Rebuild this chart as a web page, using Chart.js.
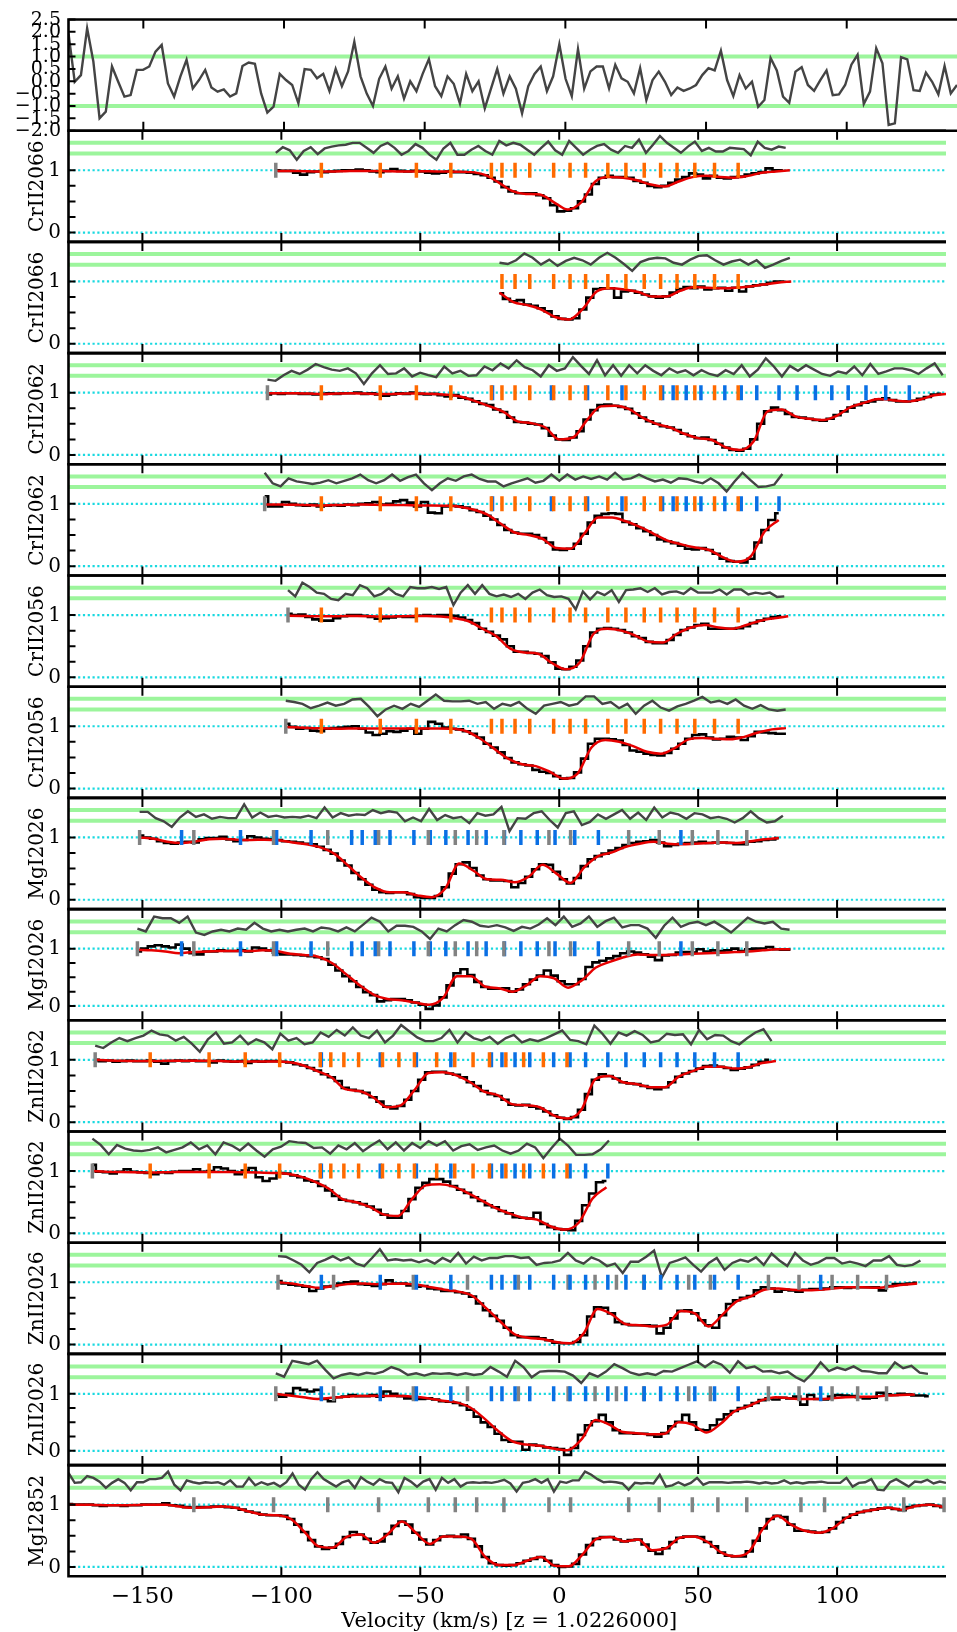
<!DOCTYPE html>
<html>
<head>
<meta charset="utf-8">
<script src="https://cdn.jsdelivr.net/npm/chart.js@4.4.0/dist/chart.umd.min.js"></script>
<style>
  html, body { margin: 0; padding: 0; background: #fff; overflow: hidden; }
  #stack { position: relative; width: 957px; height: 1632px; }
  #stack canvas { position: absolute; left: 0; }
</style>
</head>
<body>
<div id="stack"></div>
<script>
// velocity axis (km/s) shared by every panel
const V_MIN = -176.6, V_MAX = 139.2;
const velocityTicks = [-150, -100, -50, 0, 50, 100];

// fitted component velocities
const crComps = [-85.6, -64.4, -51.4, -39.0, -24.4, -20.6, -15.9, -10.6, -2.0, 3.9, 9.5, 17.5, 24.0, 30.6, 36.5, 42.4, 48.8, 55.9, 64.4];
const znInCr2062 = [-24.0, -2.8, 10.2, 22.6, 37.2, 41.0, 45.7, 51.0, 59.6, 65.5, 71.1, 79.1, 85.6, 92.2, 98.1, 104.0, 110.4, 117.5, 126.0];
const crInZn2062 = [-147.2, -126.0, -113.0, -100.6, -86.0, -82.2, -77.5, -72.2, -63.6, -57.7, -52.1, -44.1, -37.6, -31.0, -25.1, -19.2, -12.8, -5.7, 2.8];
const znExtra2026 = [94.1];
const znInMg2026 = [-135.9, -114.7, -101.7, -89.3, -74.7, -70.9, -66.2, -60.9, -52.3, -46.4, -40.8, -32.8, -26.3, -19.7, -13.8, -7.9, -1.5, 5.6, 14.1, 43.8];
const mgComps = [-131.5, -102.8, -83.3, -65.0, -47.1, -37.4, -29.7, -19.9, -3.7, 4.1, 25.0, 36.0, 47.9, 57.1, 67.5, 87.0, 95.5, 124.0, 138.5];
const mgInZn2026 = [-81.2, -52.5, -33.0, -14.7, 3.2, 12.9, 20.6, 30.4, 46.6, 54.4, 75.3, 86.3, 98.2, 107.4, 117.8];

// normalised residual of the whole fit (sigma)
const topResidual = [1.94,-0.02,0.25,2.14,0.80,-1.50,-1.23,0.60,-0.02,-0.62,-0.56,0.46,0.46,0.60,1.20,1.47,-0.09,-0.62,0.19,0.87,-0.29,0.05,0.46,-0.25,-0.42,-0.33,-0.62,-0.49,0.62,0.76,0.71,-0.49,-1.27,-1.03,0.30,0.05,-0.15,-0.89,0.49,0.46,0.12,
  0.3,-0.4,0.5,-0.2,0.4,1.6,0.2,-0.5,-1.0,0.1,0.6,-0.3,0.2,-0.7,0.0,-0.4,0.3,0.9,-0.2,-0.6,0.2,-0.1,-0.9,0.3,-0.4,0.0,-1.1,-0.3,0.5,-0.5,0.2,-0.3,-1.3,-0.2,0.3,0.6,-0.4,0.2,1.5,0.1,-0.6,1.3,-0.3,0.4,0.6,
  0.60,-0.29,0.67,0.12,-0.02,-0.49,0.53,-0.76,0.05,0.39,-0.02,-0.56,-0.25,-0.39,-0.29,-0.15,0.25,0.53,0.44,1.24,0.05,-0.60,0.25,-0.29,-0.02,-1.03,-0.76,0.94,0.44,-0.62,-0.87,0.39,0.57,-0.15,-0.39,0.05,0.44,-0.56,-0.53,-0.15,0.67,1.07,-0.92,-0.42,1.34,0.73,-1.77,-1.70,0.98,0.89,-0.36,-0.39,0.35,-0.02,-0.53,0.62,-0.49,-0.15];

// CrII2066 (first exposure)
const cr2066aFlux = [1.00,0.99,0.99,0.96,0.93,0.97,0.98,0.97,0.98,0.99,1.00,1.00,1.01,1.00,0.98,0.97,0.99,1.02,0.99,0.98,0.99,0.98,0.96,0.95,0.96,0.98,0.97,0.97,0.96,0.94,0.92,0.88,0.82,0.73,0.66,0.63,0.63,0.63,0.60,0.55,0.44,0.34,0.35,0.39,0.50,0.61,0.78,0.88,0.91,0.89,0.89,0.88,0.83,0.80,0.75,0.73,0.75,0.80,0.85,0.89,0.95,0.93,0.87,0.91,0.88,0.87,0.89,0.90,0.93,0.95,0.97,1.03,1.00,1.00];
const cr2066aModel = [0.99,0.99,0.985,0.98,0.98,0.985,0.99,0.99,0.985,0.98,0.98,0.985,0.98,0.975,0.97,0.93,0.81,0.67,0.62,0.61,0.49,0.37,0.49,0.82,0.89,0.88,0.84,0.77,0.74,0.82,0.89,0.91,0.89,0.88,0.91,0.96,0.98,1.0];
const cr2066aResid = [1.28,1.37,1.32,1.17,1.31,1.37,1.26,1.35,1.38,1.40,1.41,1.44,1.44,1.36,1.28,1.39,1.44,1.36,1.25,1.31,1.42,1.36,1.25,1.17,1.35,1.44,1.25,1.25,1.33,1.39,1.31,1.25,1.47,1.40,1.44,1.41,1.33,1.25,1.36,1.46,1.32,1.25,1.47,1.36,1.25,1.33,1.39,1.42,1.33,1.28,1.39,1.36,1.49,1.28,1.41,1.55,1.44,1.36,1.28,1.38,1.46,1.31,1.36,1.30,1.30,1.36,1.35,1.34,1.24,1.46,1.36,1.33,1.38,1.36];

// CrII2066 (second exposure)
const cr2066bFlux = [0.81,0.72,0.68,0.70,0.63,0.61,0.57,0.52,0.44,0.40,0.39,0.41,0.55,0.74,0.88,0.89,0.89,0.74,0.84,0.85,0.82,0.79,0.76,0.74,0.76,0.82,0.88,0.91,0.89,0.92,0.87,0.89,0.90,0.85,0.90,0.84,0.92,0.94,0.95,0.98,1.00,1.00];
const cr2066bModel = [0.82,0.67,0.62,0.55,0.43,0.39,0.56,0.84,0.89,0.87,0.83,0.76,0.76,0.85,0.91,0.90,0.89,0.90,0.92,0.95,0.98,1.0];
const cr2066bResid = [1.30,1.28,1.34,1.45,1.38,1.27,1.35,1.25,1.33,1.38,1.34,1.27,1.38,1.46,1.38,1.28,1.17,1.31,1.36,1.38,1.37,1.30,1.27,1.35,1.41,1.42,1.34,1.27,1.32,1.35,1.27,1.34,1.22,1.27,1.33,1.38];

// CrII2062 (first exposure)
const cr2062aFlux = [0.97,0.99,0.98,0.99,0.99,0.98,0.98,0.97,0.98,0.99,0.98,0.99,0.99,1.00,0.98,0.99,0.97,0.95,0.97,0.99,0.98,1.00,0.98,0.97,0.98,0.96,0.94,0.96,0.92,0.90,0.86,0.82,0.80,0.73,0.69,0.60,0.53,0.52,0.50,0.49,0.43,0.31,0.25,0.24,0.28,0.38,0.57,0.72,0.80,0.81,0.79,0.77,0.74,0.67,0.60,0.54,0.50,0.46,0.44,0.40,0.34,0.30,0.27,0.28,0.24,0.18,0.12,0.08,0.07,0.10,0.25,0.50,0.70,0.76,0.72,0.66,0.61,0.60,0.58,0.56,0.55,0.58,0.64,0.70,0.76,0.80,0.84,0.86,0.89,0.91,0.88,0.86,0.86,0.87,0.90,0.93,0.97,0.98];
const cr2062aModel = [0.99,0.99,0.99,0.985,0.98,0.985,0.99,0.985,0.98,0.98,0.985,0.985,0.98,0.965,0.93,0.86,0.78,0.69,0.54,0.51,0.44,0.25,0.28,0.56,0.78,0.79,0.74,0.60,0.50,0.44,0.34,0.27,0.24,0.12,0.08,0.22,0.70,0.73,0.62,0.58,0.56,0.63,0.77,0.84,0.90,0.88,0.86,0.89,0.96,0.98];
const cr2062aResid = [1.21,1.19,1.28,1.35,1.30,1.37,1.46,1.41,1.37,1.35,1.39,1.31,1.14,1.31,1.44,1.30,1.31,1.39,1.26,1.32,1.28,1.25,1.42,1.31,1.35,1.27,1.28,1.42,1.36,1.47,1.39,1.52,1.41,1.36,1.26,1.44,1.35,1.39,1.57,1.43,1.30,1.52,1.28,1.44,1.27,1.44,1.31,1.44,1.35,1.28,1.39,1.32,1.36,1.28,1.36,1.30,1.27,1.36,1.30,1.44,1.26,1.37,1.55,1.42,1.26,1.43,1.35,1.44,1.37,1.30,1.27,1.34,1.31,1.42,1.28,1.46,1.30,1.34,1.39,1.39,1.36,1.30,1.39,1.47,1.28];

// CrII2062 (second exposure)
const cr2062bFlux = [1.12,0.96,0.96,1.03,1.00,0.98,0.97,0.99,0.96,0.97,0.98,0.97,0.99,0.98,1.00,1.01,1.03,0.99,1.00,1.04,1.06,1.02,0.96,1.03,0.86,0.85,0.96,0.97,0.96,0.94,0.90,0.87,0.81,0.75,0.66,0.58,0.54,0.52,0.52,0.50,0.45,0.38,0.27,0.26,0.28,0.36,0.52,0.70,0.81,0.84,0.85,0.84,0.71,0.67,0.61,0.56,0.50,0.43,0.40,0.37,0.33,0.28,0.27,0.29,0.26,0.20,0.12,0.08,0.07,0.06,0.12,0.38,0.58,0.74,0.85];
const cr2062bModel = [0.99,0.99,0.985,0.98,0.975,0.98,0.985,0.99,0.985,0.98,0.98,0.975,0.975,0.97,0.955,0.91,0.83,0.68,0.54,0.50,0.44,0.29,0.28,0.52,0.78,0.78,0.72,0.63,0.52,0.41,0.35,0.30,0.26,0.14,0.07,0.16,0.56,0.74];
const cr2062bResid = [1.50,1.33,1.28,1.41,1.36,1.34,1.32,1.34,1.38,1.33,1.37,1.41,1.47,1.38,1.33,1.38,1.47,1.37,1.43,1.47,1.33,1.22,1.33,1.41,1.37,1.44,1.47,1.40,1.36,1.36,1.28,1.33,1.37,1.41,1.34,1.37,1.47,1.37,1.47,1.39,1.44,1.40,1.44,1.39,1.50,1.39,1.41,1.47,1.41,1.36,1.39,1.34,1.41,1.40,1.36,1.33,1.41,1.33,1.20,1.36,1.50,1.38,1.27,1.28,1.31,1.48];

// CrII2056 (first exposure)
const cr2056aFlux = [1.02,1.00,1.01,0.97,0.93,0.91,0.91,0.95,0.98,1.00,1.00,0.99,0.97,0.94,0.95,0.96,0.98,0.97,0.97,0.99,1.00,0.99,1.00,1.00,0.99,0.96,0.92,0.87,0.78,0.73,0.67,0.61,0.50,0.41,0.41,0.39,0.38,0.34,0.24,0.14,0.13,0.17,0.27,0.50,0.72,0.78,0.79,0.78,0.76,0.72,0.66,0.63,0.57,0.55,0.55,0.60,0.68,0.76,0.80,0.84,0.86,0.78,0.78,0.78,0.78,0.79,0.82,0.87,0.91,0.94,0.97,0.98];
const cr2056aModel = [0.99,0.985,0.98,0.98,0.985,0.985,0.98,0.975,0.98,0.985,0.985,0.975,0.95,0.90,0.78,0.66,0.46,0.40,0.38,0.23,0.13,0.24,0.70,0.78,0.75,0.67,0.57,0.56,0.70,0.80,0.84,0.80,0.78,0.84,0.91,0.95,0.98];
const cr2056aResid = [1.40,1.30,1.52,1.45,1.36,1.34,1.26,1.24,1.34,1.32,1.48,1.43,1.30,1.34,1.43,1.34,1.30,1.45,1.43,1.43,1.45,1.42,1.45,1.16,1.36,1.48,1.34,1.48,1.34,1.30,1.33,1.29,1.34,1.26,1.36,1.41,1.32,1.29,1.30,1.26,1.09,1.38,1.25,1.37,1.32,1.40,1.21,1.40,1.41,1.43,1.37,1.43,1.33,1.37,1.38,1.34,1.43,1.36,1.36,1.36,1.41,1.33,1.41,1.41,1.33,1.36,1.34,1.36,1.29,1.30];

// CrII2056 (second exposure)
const cr2056bFlux = [1.04,0.99,0.96,0.97,0.93,0.92,0.96,0.97,0.98,0.99,1.00,0.96,0.90,0.86,0.88,0.92,0.91,0.93,0.96,0.88,0.96,1.07,1.04,0.98,0.96,0.95,0.92,0.88,0.82,0.72,0.66,0.58,0.49,0.42,0.39,0.37,0.30,0.27,0.25,0.20,0.16,0.17,0.26,0.48,0.72,0.80,0.80,0.79,0.77,0.70,0.61,0.59,0.56,0.54,0.53,0.57,0.64,0.72,0.80,0.86,0.87,0.82,0.79,0.80,0.83,0.82,0.78,0.84,0.91,0.90,0.89,0.88,0.88];
const cr2056bModel = [0.99,0.98,0.97,0.965,0.96,0.965,0.965,0.965,0.965,0.965,0.965,0.965,0.96,0.92,0.80,0.64,0.48,0.39,0.36,0.27,0.16,0.24,0.66,0.78,0.75,0.68,0.59,0.56,0.65,0.79,0.81,0.80,0.79,0.83,0.90,0.95,0.97];
const cr2056bResid = [1.41,1.39,1.36,1.29,1.33,1.38,1.33,1.36,1.43,1.44,1.31,1.16,1.27,1.33,1.28,1.36,1.31,1.41,1.51,1.41,1.40,1.40,1.41,1.36,1.39,1.28,1.36,1.33,1.39,1.28,1.20,1.33,1.36,1.39,1.33,1.36,1.48,1.48,1.36,1.39,1.29,1.36,1.20,1.33,1.41,1.30,1.25,1.32,1.36,1.41,1.47,1.38,1.41,1.36,1.43,1.33,1.28,1.34,1.27,1.25,1.27];

// MgI2026 (first exposure)
const mg2026aFlux = [1.03,1.00,0.98,0.94,0.91,0.90,0.92,0.93,0.92,0.97,0.99,0.99,1.01,0.97,0.94,0.96,1.02,1.00,0.98,0.97,0.96,0.94,0.93,0.92,0.90,0.89,0.85,0.80,0.74,0.63,0.55,0.43,0.33,0.24,0.16,0.12,0.11,0.12,0.12,0.09,0.04,0.03,0.03,0.06,0.20,0.42,0.57,0.60,0.51,0.39,0.33,0.31,0.31,0.30,0.20,0.27,0.37,0.49,0.57,0.56,0.45,0.33,0.26,0.35,0.54,0.65,0.70,0.74,0.79,0.83,0.88,0.91,0.93,0.94,0.96,0.92,0.86,0.88,0.90,0.91,0.92,0.93,0.91,0.92,0.92,0.91,0.89,0.89,0.93,0.94,0.96,0.97,0.99];
const mg2026aModel = [1.0,0.98,0.93,0.91,0.935,0.97,0.98,0.965,0.96,0.965,0.955,0.92,0.89,0.84,0.74,0.55,0.35,0.19,0.12,0.12,0.07,0.04,0.18,0.58,0.47,0.33,0.32,0.28,0.37,0.56,0.42,0.27,0.52,0.70,0.76,0.85,0.90,0.93,0.90,0.89,0.90,0.91,0.92,0.91,0.94,0.97,0.99];
const mg2026aResid = [1.41,1.41,1.31,1.26,1.17,1.32,1.42,1.33,1.37,1.30,1.33,1.31,1.31,1.53,1.32,1.40,1.33,1.35,1.32,1.33,1.32,1.35,1.31,1.48,1.32,1.39,1.35,1.37,1.36,1.44,1.39,1.42,1.40,1.26,1.32,1.26,1.46,1.28,1.36,1.31,1.33,1.23,1.39,1.35,1.37,1.49,1.10,1.31,1.30,1.39,1.42,1.28,1.16,1.39,1.42,1.20,1.25,1.37,1.30,1.37,1.44,1.30,1.40,1.28,1.48,1.32,1.40,1.37,1.30,1.39,1.37,1.31,1.33,1.30,1.24,1.31,1.42,1.31,1.24,1.26,1.35];

// MgI2026 (second exposure)
const mg2026bFlux = [0.95,1.00,1.04,1.06,1.04,1.02,1.07,1.00,0.92,0.90,0.95,0.95,0.97,0.96,0.96,0.97,0.95,1.02,1.00,0.97,0.93,0.90,0.90,0.89,0.88,0.87,0.85,0.82,0.72,0.62,0.52,0.43,0.33,0.24,0.19,0.08,0.10,0.12,0.12,0.10,0.06,0.02,-0.05,0.01,0.15,0.36,0.57,0.64,0.54,0.42,0.33,0.30,0.30,0.31,0.25,0.29,0.38,0.46,0.53,0.62,0.53,0.43,0.38,0.38,0.47,0.68,0.76,0.79,0.83,0.87,0.92,0.95,0.93,0.90,0.86,0.80,0.88,0.89,0.93,0.94,0.93,0.99,0.95,0.97,0.96,0.97,1.00,0.96,0.99,1.00,1.00,1.03,0.99,0.98,0.98];
const mg2026bModel = [0.98,0.97,0.95,0.92,0.94,0.95,0.96,0.96,0.96,0.97,0.96,0.91,0.89,0.86,0.75,0.56,0.36,0.20,0.12,0.10,0.06,0.02,0.14,0.52,0.52,0.34,0.31,0.25,0.36,0.52,0.48,0.32,0.45,0.67,0.77,0.85,0.90,0.89,0.89,0.90,0.91,0.92,0.93,0.94,0.95,0.97,0.99,0.99];
const mg2026bResid = [1.35,1.30,1.56,1.53,1.53,1.45,1.56,1.28,1.24,1.30,1.33,1.30,1.35,1.33,1.45,1.35,1.30,1.33,1.30,1.33,1.35,1.30,1.37,1.35,1.30,1.37,1.30,1.42,1.54,1.47,1.30,1.40,1.40,1.38,1.30,1.17,1.35,1.30,1.41,1.50,1.47,1.40,1.38,1.41,1.37,1.31,1.38,1.35,1.42,1.53,1.41,1.56,1.38,1.44,1.56,1.38,1.48,1.54,1.37,1.41,1.41,1.35,1.19,1.40,1.54,1.38,1.44,1.47,1.41,1.47,1.38,1.28,1.41,1.54,1.47,1.44,1.47,1.35,1.33];

// ZnII2062 (first exposure)
const zn2062aFlux = [1.00,0.98,0.99,0.97,0.98,0.99,0.98,0.98,0.99,0.97,0.94,0.98,0.99,0.98,0.99,0.98,0.98,0.96,0.99,0.98,0.97,0.98,0.95,0.98,0.97,0.98,0.98,0.97,0.96,0.93,0.91,0.87,0.83,0.77,0.72,0.66,0.55,0.52,0.50,0.47,0.40,0.33,0.25,0.22,0.26,0.36,0.50,0.68,0.80,0.81,0.81,0.78,0.76,0.72,0.64,0.58,0.50,0.45,0.42,0.36,0.28,0.27,0.28,0.25,0.22,0.17,0.11,0.07,0.05,0.08,0.20,0.45,0.68,0.77,0.74,0.70,0.64,0.62,0.61,0.58,0.55,0.53,0.56,0.64,0.73,0.78,0.82,0.86,0.90,0.91,0.89,0.87,0.84,0.86,0.88,0.92,0.97,1.00];
const zn2062aModel = [1.0,0.99,0.985,0.98,0.98,0.985,0.985,0.985,0.985,0.98,0.975,0.975,0.975,0.975,0.96,0.91,0.82,0.72,0.53,0.50,0.40,0.24,0.27,0.52,0.79,0.80,0.75,0.64,0.49,0.43,0.29,0.27,0.24,0.11,0.06,0.20,0.69,0.74,0.64,0.61,0.56,0.56,0.73,0.82,0.89,0.89,0.86,0.88,0.95,0.98];
const zn2062aResid = [1.23,1.19,1.28,1.35,1.30,1.35,1.39,1.47,1.41,1.39,1.31,1.37,1.26,1.13,1.33,1.44,1.26,1.28,1.39,1.25,1.33,1.28,1.17,1.42,1.31,1.35,1.25,1.28,1.44,1.37,1.48,1.39,1.52,1.39,1.35,1.47,1.28,1.39,1.56,1.46,1.36,1.30,1.30,1.35,1.48,1.28,1.44,1.35,1.31,1.37,1.26,1.35,1.40,1.28,1.33,1.30,1.35,1.41,1.47,1.32,1.30,1.25,1.55,1.42,1.26,1.44,1.39,1.46,1.40,1.28,1.31,1.42,1.40,1.41,1.25,1.48,1.33,1.40,1.39,1.30,1.25,1.35,1.44,1.49,1.30];

// ZnII2062 (second exposure)
const zn2062bFlux = [1.10,0.99,0.98,0.96,0.99,1.03,0.99,0.98,0.97,0.95,0.98,0.97,0.99,1.00,1.00,1.03,0.99,1.00,1.06,1.04,1.00,0.95,1.01,1.05,0.90,0.84,0.88,0.97,0.96,0.93,0.90,0.85,0.83,0.76,0.69,0.60,0.54,0.52,0.50,0.47,0.43,0.38,0.30,0.25,0.25,0.36,0.55,0.73,0.81,0.87,0.87,0.83,0.76,0.70,0.65,0.58,0.52,0.45,0.42,0.36,0.32,0.26,0.25,0.24,0.33,0.15,0.10,0.07,0.06,0.05,0.20,0.45,0.64,0.82,0.84];
const zn2062bModel = [1.0,0.99,0.985,0.98,0.975,0.98,0.985,0.985,0.985,0.985,0.985,0.98,0.975,0.97,0.955,0.91,0.83,0.72,0.55,0.50,0.42,0.30,0.28,0.55,0.77,0.79,0.75,0.65,0.53,0.41,0.32,0.25,0.22,0.11,0.06,0.17,0.56,0.74];
const zn2062bResid = [1.52,1.42,1.27,1.42,1.36,1.33,1.32,1.34,1.38,1.30,1.34,1.38,1.46,1.35,1.41,1.27,1.46,1.41,1.33,1.44,1.33,1.23,1.35,1.39,1.48,1.46,1.45,1.37,1.38,1.28,1.41,1.35,1.45,1.32,1.41,1.49,1.35,1.46,1.33,1.45,1.37,1.48,1.41,1.48,1.33,1.40,1.43,1.34,1.38,1.41,1.33,1.28,1.33,1.44,1.38,1.21,1.37,1.52,1.41,1.26,1.26,1.27,1.35,1.49];

// ZnII2026 (first exposure)
const zn2026aFlux = [1.02,0.98,0.96,0.95,0.93,0.86,0.90,0.93,0.94,0.98,1.00,1.01,0.97,0.96,0.94,0.97,1.03,0.98,0.98,0.95,0.93,0.94,0.90,0.89,0.86,0.86,0.84,0.82,0.77,0.66,0.55,0.46,0.38,0.27,0.15,0.12,0.12,0.12,0.10,0.07,0.03,0.02,0.02,0.04,0.15,0.45,0.60,0.59,0.50,0.36,0.33,0.31,0.31,0.31,0.30,0.18,0.27,0.42,0.54,0.55,0.50,0.39,0.31,0.27,0.47,0.65,0.71,0.75,0.78,0.87,0.92,0.90,0.85,0.88,0.87,0.85,0.88,0.89,0.89,0.90,0.92,0.92,0.91,0.92,0.92,0.92,0.92,0.87,0.94,0.97,0.97,0.98,0.99];
const zn2026aModel = [1.00,0.98,0.94,0.91,0.94,0.97,0.98,0.97,0.975,0.975,0.96,0.92,0.88,0.85,0.78,0.58,0.37,0.17,0.11,0.09,0.04,0.02,0.18,0.57,0.49,0.33,0.31,0.29,0.32,0.54,0.50,0.29,0.48,0.69,0.77,0.88,0.90,0.88,0.87,0.88,0.90,0.92,0.92,0.91,0.93,0.96,0.98];
const zn2026aResid = [1.42,1.41,1.35,1.28,1.16,1.31,1.36,1.42,1.35,1.40,1.30,1.26,1.39,1.53,1.35,1.37,1.35,1.36,1.32,1.36,1.30,1.39,1.33,1.47,1.30,1.41,1.35,1.39,1.39,1.42,1.42,1.39,1.40,1.28,1.31,1.32,1.35,1.47,1.35,1.30,1.40,1.35,1.26,1.30,1.15,1.33,1.33,1.41,1.51,1.08,1.31,1.35,1.40,1.28,1.17,1.31,1.39,1.20,1.31,1.36,1.33,1.40,1.28,1.46,1.35,1.26,1.47,1.35,1.28,1.32,1.39,1.39,1.30,1.33,1.30,1.26,1.35,1.35,1.42,1.28,1.26,1.28,1.35];

// ZnII2026 (second exposure)
const zn2026bFlux = [0.98,0.95,1.00,1.10,1.07,1.04,1.07,0.91,0.87,0.94,0.95,0.98,0.96,0.96,0.98,0.95,1.04,1.00,0.96,0.92,0.92,0.91,0.92,0.90,0.87,0.86,
  0.84,0.80,0.72,0.60,0.50,0.42,0.30,0.19,0.16,0.16,0.02,0.11,0.09,0.06,0.05,0.03,-0.07,0.05,0.28,0.45,0.52,0.63,0.50,0.36,0.31,0.31,0.30,0.30,0.28,0.25,0.31,0.43,0.51,0.63,0.50,0.37,0.36,0.45,0.55,0.64,0.70,0.75,0.79,0.84,0.89,0.92,0.90,0.93,0.92,0.95,0.81,0.98,0.91,0.90,0.95,0.98,0.97,0.96,0.94,0.92,0.93,1.02,0.99,0.98,1.00,0.99,0.97,0.97,0.96];
const zn2026bModel = [1.00,0.97,0.94,0.91,0.93,0.95,0.96,0.96,0.96,0.96,0.95,0.92,0.88,0.85,0.76,0.57,0.35,0.17,0.11,0.09,0.04,0.01,0.20,0.54,0.46,0.33,0.31,0.29,0.30,0.50,0.46,0.32,0.47,0.69,0.78,0.89,0.94,0.92,0.91,0.91,0.92,0.94,0.95,0.95,0.97,0.98,0.99];
const zn2026bResid = [1.36,1.30,1.58,1.55,1.52,1.58,1.42,1.27,1.33,1.36,1.33,1.37,1.35,1.39,1.47,1.42,1.33,1.36,1.32,1.36,1.35,1.36,1.33,1.36,1.33,1.35,1.47,1.39,1.30,1.58,1.47,1.29,1.39,1.40,1.40,1.39,1.32,1.19,1.36,1.30,1.39,1.52,1.45,1.37,1.33,1.36,1.33,1.40,1.39,1.45,1.51,1.57,1.47,1.57,1.51,1.37,1.57,1.45,1.48,1.39,1.40,1.36,1.39,1.29,1.22,1.36,1.55,1.40,1.46,1.42,1.48,1.40,1.39,1.36,1.36,1.55,1.45,1.49,1.37,1.35];

// MgI2852
const mg2852Flux = [1.01,1.00,1.00,1.00,0.99,0.98,0.99,0.99,0.98,0.99,0.99,1.00,1.00,1.00,1.02,0.99,0.98,0.96,0.95,0.96,0.96,0.97,0.97,0.96,0.95,0.92,0.89,0.87,0.84,0.83,0.83,0.82,0.77,0.68,0.56,0.43,0.33,0.29,0.31,0.37,0.48,0.56,0.52,0.45,0.39,0.41,0.53,0.66,0.73,0.68,0.55,0.44,0.36,0.43,0.49,0.50,0.48,0.52,0.45,0.33,0.16,0.06,0.03,0.02,0.03,0.06,0.10,0.13,0.16,0.10,0.03,0.00,0.01,0.05,0.20,0.35,0.45,0.48,0.48,0.44,0.41,0.43,0.44,0.36,0.26,0.21,0.30,0.40,0.47,0.49,0.49,0.48,0.40,0.33,0.23,0.18,0.17,0.17,0.25,0.42,0.62,0.77,0.82,0.80,0.68,0.58,0.58,0.57,0.55,0.56,0.62,0.72,0.79,0.84,0.88,0.90,0.92,0.94,0.95,0.93,0.91,0.96,0.98,0.99,1.00,0.98,0.96];
const mg2852Model = [1.00,1.00,0.995,0.99,0.99,0.995,1.00,1.00,0.97,0.95,0.96,0.97,0.95,0.89,0.84,0.83,0.77,0.56,0.33,0.31,0.48,0.52,0.39,0.53,0.73,0.55,0.37,0.49,0.49,0.45,0.16,0.03,0.03,0.10,0.16,0.02,0.01,0.20,0.45,0.48,0.41,0.44,0.27,0.30,0.47,0.49,0.40,0.23,0.17,0.25,0.62,0.82,0.68,0.58,0.55,0.62,0.79,0.88,0.92,0.95,0.92,0.98,1.00,0.96];
const mg2852Resid = [1.51,1.35,1.36,1.46,1.43,1.37,1.27,1.35,1.41,1.35,1.23,1.36,1.36,1.41,1.41,1.43,1.53,1.32,1.23,1.39,1.36,1.34,1.36,1.35,1.36,1.32,1.39,1.29,1.29,1.43,1.31,1.36,1.32,1.35,1.29,1.36,1.50,1.32,1.24,1.41,1.52,1.41,1.35,1.29,1.36,1.39,1.27,1.44,1.37,1.32,1.41,1.36,1.35,1.20,1.43,1.37,1.29,1.37,1.41,1.24,1.43,1.35,1.41,1.29,1.35,1.36,1.35,1.36,
  1.35,1.37,1.40,1.34,1.21,1.35,1.37,1.41,1.35,1.41,1.21,1.37,1.35,1.39,1.39,1.53,1.48,1.41,1.36,1.37,1.36,1.34,1.24,1.35,1.34,1.35,1.34,1.48,1.29,1.31,1.36,1.31,1.35,1.43,1.32,1.36,1.36,1.36,1.35,1.36,1.36,1.37,1.36,1.34,1.36,1.34,1.35,1.39,1.34,1.36,1.34,1.36,1.36,1.37,1.35,1.35,1.35,1.43,1.29,1.35,1.36,1.41,1.24,1.23,1.36,1.41,1.35,1.29,1.37,1.36,1.40,1.34,1.37,1.35];

const ORANGE = '#ff6a00', BLUE = '#0a6fe4', GREY = '#828282';

// one entry per spectral panel, top to bottom
const panels = [
  { label: 'CrII2066', range: [-102, 81.5], flux: cr2066aFlux, model: cr2066aModel, resid: cr2066aResid,
    ticks: [[crComps, ORANGE], [[-102], GREY]] },
  { label: 'CrII2066', range: [-21.5, 83], flux: cr2066bFlux, model: cr2066bModel, resid: cr2066bResid,
    ticks: [[crComps, ORANGE]] },
  { label: 'CrII2062', range: [-105, 138], flux: cr2062aFlux, model: cr2062aModel, resid: cr2062aResid,
    ticks: [[crComps, ORANGE], [znInCr2062, BLUE], [[-105], GREY]] },
  { label: 'CrII2062', range: [-106, 80.3], flux: cr2062bFlux, model: cr2062bModel, resid: cr2062bResid,
    ticks: [[crComps, ORANGE], [znInCr2062, BLUE], [[-106], GREY]] },
  { label: 'CrII2056', range: [-97.6, 81], flux: cr2056aFlux, model: cr2056aModel, resid: cr2056aResid,
    ticks: [[crComps, ORANGE], [[-97.6], GREY]] },
  { label: 'CrII2056', range: [-98.4, 81.5], flux: cr2056bFlux, model: cr2056bModel, resid: cr2056bResid,
    ticks: [[crComps, ORANGE], [[-98.4], GREY]] },
  { label: 'MgI2026', range: [-151, 80.5], flux: mg2026aFlux, model: mg2026aModel, resid: mg2026aResid,
    ticks: [[mgComps, GREY], [znInMg2026, BLUE], [[-151], GREY]] },
  { label: 'MgI2026', range: [-151.8, 82.9], flux: mg2026bFlux, model: mg2026bModel, resid: mg2026bResid,
    ticks: [[mgComps, GREY], [znInMg2026, BLUE], [[-151.8], GREY]], yRange: [-0.25, 1.69], green: [1.285, 1.475] },
  { label: 'ZnII2062', range: [-167, 76.4], flux: zn2062aFlux, model: zn2062aModel, resid: zn2062aResid,
    ticks: [[crInZn2062, ORANGE], [crComps, BLUE], [[-167], GREY]] },
  { label: 'ZnII2062', range: [-168, 17.9], flux: zn2062bFlux, model: zn2062bModel, resid: zn2062bResid,
    ticks: [[crInZn2062, ORANGE], [crComps, BLUE], [[-168], GREY]] },
  { label: 'ZnII2026', range: [-101.2, 130], flux: zn2026aFlux, model: zn2026aModel, resid: zn2026aResid,
    ticks: [[crComps.concat(znExtra2026), BLUE], [mgInZn2026, GREY], [[-101.2], GREY]] },
  { label: 'ZnII2026', range: [-102, 132.7], flux: zn2026bFlux, model: zn2026bModel, resid: zn2026bResid,
    ticks: [[crComps.concat(znExtra2026), BLUE], [mgInZn2026, GREY], [[-102], GREY]], yRange: [-0.25, 1.70], green: [1.29, 1.48] },
  { label: 'MgI2852', range: [V_MIN, V_MAX], flux: mg2852Flux, model: mg2852Model, resid: mg2852Resid,
    ticks: [[mgComps, GREY]] }
];

const FLUX_STEP = 2.5, MODEL_STEP = 5;
const FIG_TOP = 19.5, PANEL_H = 111.2, PLOT_LEFT = 68.5, PAD = 14;
const SERIF = '"DejaVu Serif", "Liberation Serif", serif';
const stack = document.getElementById('stack');

function minus(s) { return String(s).replace('-', '\u2212'); }

// frame, inward ticks and text are drawn by hand on top of the datasets
const axesFrame = {
  id: 'axesFrame',
  afterDraw(chart, args, o) {
    const ctx = chart.ctx, a = chart.chartArea;
    const xs = chart.scales.x, ys = chart.scales.y;
    ctx.save();
    ctx.strokeStyle = '#000';
    ctx.fillStyle = '#000';
    ctx.lineWidth = 2;
    ctx.beginPath();
    velocityTicks.forEach(v => {
      const px = xs.getPixelForValue(v);
      ctx.moveTo(px, a.top); ctx.lineTo(px, a.top + 9);
      ctx.moveTo(px, a.bottom); ctx.lineTo(px, a.bottom - 9);
    });
    o.yTicks.forEach(v => {
      const py = ys.getPixelForValue(v);
      ctx.moveTo(a.left, py); ctx.lineTo(a.left + 7, py);
    });
    ctx.stroke();

    ctx.lineWidth = 2.6;
    ctx.beginPath();
    ctx.moveTo(a.left - 1.3, a.top); ctx.lineTo(a.right, a.top);
    ctx.moveTo(a.left - 1.3, a.bottom); ctx.lineTo(a.right, a.bottom);
    ctx.moveTo(a.left, a.top); ctx.lineTo(a.left, a.bottom);
    ctx.stroke();

    ctx.font = o.labelFont;
    ctx.textAlign = 'right';
    ctx.textBaseline = 'middle';
    o.yLabels.forEach(([v, t]) => ctx.fillText(t, a.left - 7.5, ys.getPixelForValue(v) + 0.5));

    if (o.title) {
      ctx.save();
      ctx.translate(42.5, (a.top + a.bottom) / 2);
      ctx.rotate(-Math.PI / 2);
      ctx.font = '20px ' + SERIF;
      ctx.textAlign = 'center';
      ctx.textBaseline = 'alphabetic';
      ctx.fillText(o.title, 0, 0);
      ctx.restore();
    }
    if (o.xTitle) {
      ctx.textAlign = 'center';
      ctx.textBaseline = 'alphabetic';
      ctx.font = '23px ' + SERIF;
      velocityTicks.forEach(v => ctx.fillText(minus(v), xs.getPixelForValue(v), a.bottom + 27));
      ctx.font = '21px ' + SERIF;
      ctx.fillText(o.xTitle, (a.left + a.right) / 2 + 2, a.bottom + 50.5);
    }
    ctx.restore();
  }
};

function hline(y, color, width, dash, order) {
  return { data: [{ x: V_MIN, y }, { x: V_MAX, y }], borderColor: color, borderWidth: width,
           borderDash: dash, pointRadius: 0, order };
}

function stepped(values, start, step) {
  return values.map((y, i) => ({ x: start + i * step, y }));
}

function spread(values, range) {
  const step = (range[1] - range[0]) / (values.length - 1);
  return values.map((y, i) => ({ x: range[0] + i * step, y }));
}

function tickSet(vs, range, color) {
  const pts = vs.filter(v => v >= range[0] - 0.6 && v <= range[1] + 0.6).map(v => ({ x: v, y: 1 }));
  return { data: pts, showLine: false, pointStyle: 'line', pointRotation: 90, pointRadius: 7.5,
           pointBorderWidth: 3.5, pointBorderColor: color, pointBackgroundColor: color, order: 0 };
}

function addPanel(index, datasets, yRange, frameOpts, bottomSpace) {
  const top = FIG_TOP + index * PANEL_H;
  const cTop = Math.floor(top - PAD);
  const cBottom = Math.ceil(top + PANEL_H + bottomSpace);
  const canvas = document.createElement('canvas');
  canvas.width = 957;
  canvas.height = cBottom - cTop;
  canvas.style.top = cTop + 'px';
  stack.appendChild(canvas);
  new Chart(canvas, {
    type: 'line',
    data: { datasets },
    options: {
      responsive: false,
      animation: false,
      events: [],
      layout: { padding: { left: PLOT_LEFT, right: 0, top: top - cTop, bottom: cBottom - (top + PANEL_H) } },
      scales: {
        x: { type: 'linear', min: V_MIN, max: V_MAX, display: false },
        y: { type: 'linear', min: yRange[0], max: yRange[1], display: false }
      },
      elements: { point: { radius: 0 }, line: { tension: 0 } },
      plugins: { legend: { display: false }, tooltip: { enabled: false }, axesFrame: frameOpts }
    },
    plugins: [axesFrame]
  });
}

// residual strip across the top
const topTicks = [-2, -1.5, -1, -0.5, 0, 0.5, 1, 1.5, 2, 2.5];
addPanel(0, [
  hline(1, '#9cf59c', 4, [], 5),
  hline(-1, '#9cf59c', 4, [], 5),
  { data: spread(topResidual, [V_MIN, V_MAX]), borderColor: '#444', borderWidth: 2.4, pointRadius: 0, order: 3 }
], [-2, 2.5], {
  yTicks: topTicks,
  yLabels: topTicks.map(v => [v, minus(v.toFixed(1))]),
  labelFont: '19px ' + SERIF
}, PAD);

panels.forEach((p, k) => {
  const green = p.green || [1.27, 1.44];
  const sets = [
    hline(green[0], '#9cf59c', 4, [], 5),
    hline(green[1], '#9cf59c', 4, [], 5),
    hline(0, '#1ad9e0', 2.2, [2.2, 2.6], 4),
    hline(1, '#1ad9e0', 2.2, [2.2, 2.6], 4),
    { data: spread(p.resid, p.range), borderColor: '#444', borderWidth: 2.4, pointRadius: 0, order: 3 },
    { data: stepped(p.flux, p.range[0], FLUX_STEP), borderColor: '#000', borderWidth: 2.6, stepped: 'middle', pointRadius: 0, order: 2 },
    { data: stepped(p.model, p.range[0], MODEL_STEP), borderColor: '#e60000', borderWidth: 2.5, cubicInterpolationMode: 'monotone', pointRadius: 0, order: 1 }
  ];
  p.ticks.forEach(([vs, color]) => sets.push(tickSet(vs, p.range, color)));
  const last = k === panels.length - 1;
  addPanel(k + 1, sets, p.yRange || [-0.15, 1.635], {
    yTicks: [0, 0.25, 0.5, 0.75, 1],
    yLabels: [[0, '0'], [1, '1']],
    labelFont: '20px ' + SERIF,
    title: p.label,
    xTitle: last ? 'Velocity (km/s) [z = 1.0226000]' : null
  }, last ? 1632 - (FIG_TOP + 14 * PANEL_H) : PAD);
});
</script>
</body>
</html>
